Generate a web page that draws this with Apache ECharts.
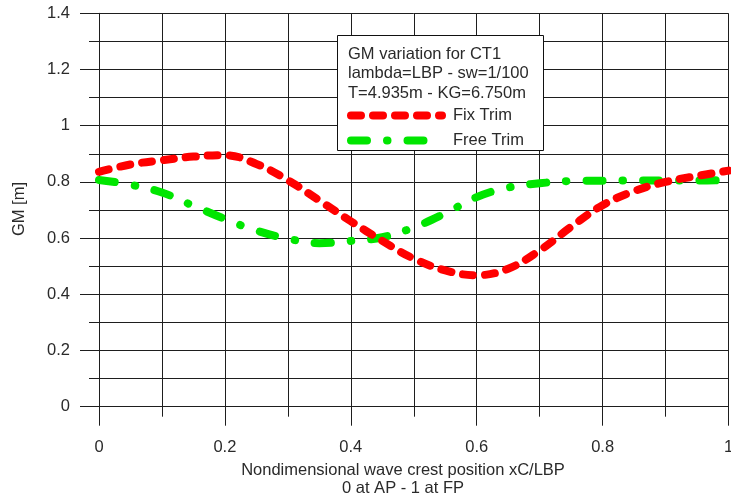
<!DOCTYPE html>
<html>
<head>
<meta charset="utf-8">
<script src="https://cdn.jsdelivr.net/npm/echarts@6/dist/echarts.min.js"></script>
<style>
html,body{margin:0;padding:0;background:#fff;}
#chart{width:731px;height:502px;}
</style>
</head>
<body>
<div id="chart"></div>
<script>
// Data
const xPositions = [0, 0.05, 0.1, 0.15, 0.2, 0.25, 0.3, 0.35, 0.4, 0.45, 0.5, 0.55, 0.6, 0.65, 0.7, 0.75, 0.8, 0.85, 0.9, 0.95, 1.0];
const fixTrim  = [0.836, 0.862, 0.877, 0.890, 0.895, 0.864, 0.806, 0.734, 0.660, 0.590, 0.527, 0.485, 0.468, 0.491, 0.556, 0.640, 0.717, 0.767, 0.800, 0.821, 0.840];
const freeTrim = [0.807, 0.790, 0.762, 0.715, 0.668, 0.627, 0.598, 0.582, 0.590, 0.603, 0.638, 0.688, 0.746, 0.780, 0.795, 0.803, 0.804, 0.805, 0.805, 0.805, 0.806];
const seriesNames = ['Fix Trim', 'Free Trim'];
const boxTitleLines = ['GM variation for CT1', 'lambda=LBP - sw=1/100', 'T=4.935m - KG=6.750m'];
const xTitleLines = ['Nondimensional wave crest position xC/LBP', '0 at AP - 1 at FP'];
const yTitle = 'GM [m]';

const FONT = 'Liberation Sans, Arial, sans-serif';
const FS = 16.5;
const LINE = '#1e1e1e';
const TXT = '#2a2a2a';
const RED = '#ff0000';
const GREEN = '#00e600';
const redDash = [10, 12];
const greenDash = [16, 20, 0.5, 20];

const pairs = ys => xPositions.map((x, i) => [x, ys[i]]);

const chart = echarts.init(document.getElementById('chart'), null, {renderer: 'canvas'});

const axisCommon = {
  type: 'value',
  axisLine: {show: true, lineStyle: {color: LINE, width: 1}},
  axisTick: {show: true, inside: false, length: 19, lineStyle: {color: LINE, width: 1}},
  minorTick: {show: true, splitNumber: 2, length: 10, lineStyle: {color: LINE, width: 1}},
  splitLine: {show: true, lineStyle: {color: LINE, width: 1}},
  minorSplitLine: {show: true, lineStyle: {color: LINE, width: 1}},
  axisLabel: {color: TXT, fontFamily: FONT, fontSize: FS}
};

chart.setOption({
  animation: false,
  backgroundColor: '#fff',
  grid: {left: 99, right: 2.5, top: 13.3, bottom: 95.3, containLabel: false, outerBoundsMode: 'none'},
  xAxis: Object.assign({}, axisCommon, {
    min: 0, max: 1, interval: 0.2,
    axisLabel: Object.assign({}, axisCommon.axisLabel, {margin: 32})
  }),
  yAxis: Object.assign({}, axisCommon, {
    min: 0, max: 1.4, interval: 0.2,
    axisLabel: Object.assign({}, axisCommon.axisLabel, {margin: 29})
  }),
  legend: {
    show: true,
    data: [
      {name: seriesNames[0], lineStyle: {width: 8, type: redDash, cap: 'round', color: RED}},
      {name: seriesNames[1], lineStyle: {width: 8, type: greenDash, cap: 'round', color: GREEN}}
    ],
    orient: 'vertical',
    left: 347,
    top: 107,
    padding: 0,
    itemWidth: 91,
    itemHeight: 14,
    itemGap: 8,
    z: 6,
    itemStyle: {opacity: 0},
    textStyle: {color: TXT, fontFamily: FONT, fontSize: FS, lineHeight: 16, padding: [0, 0, 0, 6]},
    selectedMode: false
  },
  graphic: [
    {type: 'rect', z: 4, shape: {x: 337.5, y: 35.5, width: 206, height: 115}, style: {fill: '#fff', stroke: '#111', lineWidth: 1}},
    ...boxTitleLines.map((t, i) => ({
      type: 'text', z: 5, x: 348, y: 54 + i * 19.5,
      style: {text: t, fill: TXT, font: FS + 'px ' + FONT, textAlign: 'left', textVerticalAlign: 'middle'}
    })),
    ...xTitleLines.map((t, i) => ({
      type: 'text', z: 5, x: 403, y: 470 + i * 18,
      style: {text: t, fill: TXT, font: FS + 'px ' + FONT, textAlign: 'center', textVerticalAlign: 'middle'}
    })),
    {type: 'text', z: 5, x: 19, y: 209, rotation: Math.PI / 2,
     style: {text: yTitle, fill: TXT, font: FS + 'px ' + FONT, textAlign: 'center', textVerticalAlign: 'middle'}}
  ],
  series: [
    {
      name: seriesNames[0], type: 'line', data: pairs(fixTrim),
      smooth: 0.4, showSymbol: false, symbol: 'none', z: 3,
      lineStyle: {color: RED, width: 8, type: redDash, cap: 'round', join: 'round'},
      itemStyle: {color: RED}
    },
    {
      name: seriesNames[1], type: 'line', data: pairs(freeTrim),
      smooth: 0.4, showSymbol: false, symbol: 'none', z: 2,
      lineStyle: {color: GREEN, width: 8, type: greenDash, cap: 'round', join: 'round'},
      itemStyle: {color: GREEN}
    }
  ]
});
</script>
</body>
</html>
